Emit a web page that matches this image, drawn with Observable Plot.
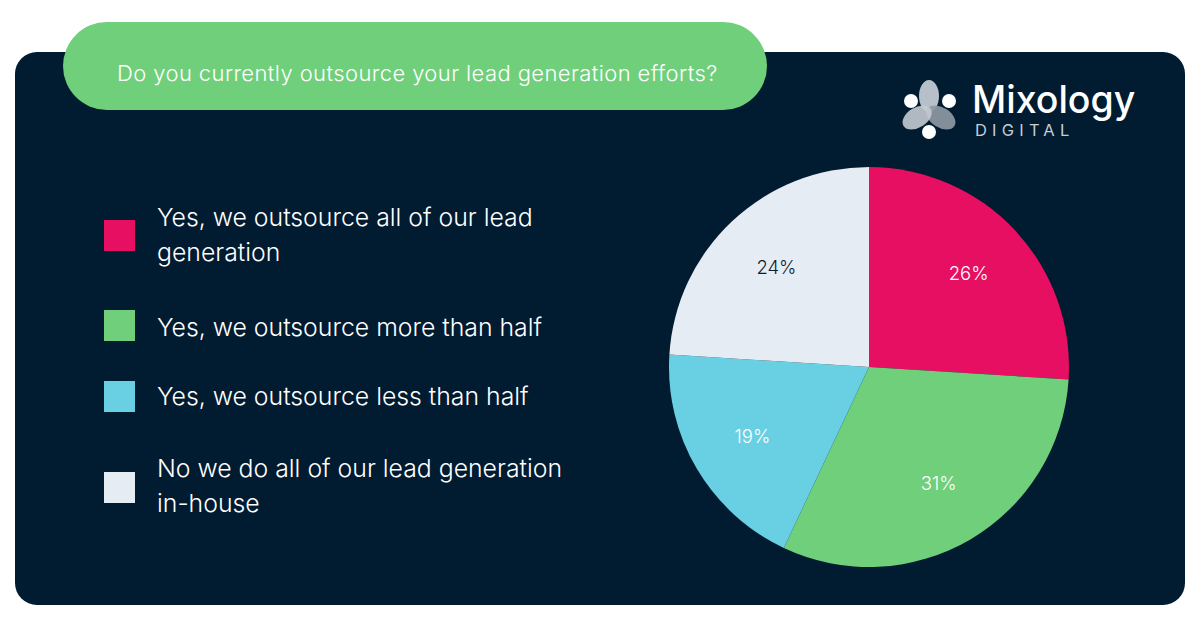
<!DOCTYPE html>
<html>
<head>
<meta charset="utf-8">
<script src="https://cdn.jsdelivr.net/npm/d3@7"></script>
<script src="https://cdn.jsdelivr.net/npm/@observablehq/plot@0.6"></script>
<style>
  html, body { margin: 0; padding: 0; background: #ffffff; }
  #root { position: relative; width: 1200px; height: 630px; overflow: hidden; font-family: Inter, "Noto Sans", sans-serif; }
  #panel { position: absolute; left: 15px; top: 52px; width: 1170px; height: 553px; background: #011B31; border-radius: 22px; }
  #pill { position: absolute; left: 63px; top: 22px; width: 704px; height: 88px; background: #6FCF7A; border-radius: 44px; }
  #title { position: absolute; left: 117px; top: 59px; font-size: 22px; letter-spacing: 0.4px; font-weight: 300; color: #ffffff; white-space: nowrap; line-height: 28px; }
  .leg-sw { position: absolute; left: 104px; width: 31px; height: 31px; }
  .leg-tx { position: absolute; left: 157px; font-size: 24.8px; font-weight: 300; line-height: 35px; color: #ffffff; white-space: nowrap; }
  #chart { position: absolute; left: 668.5px; top: 167px; }
  #logo { position: absolute; left: 895px; top: 75px; }
  #logo-name { position: absolute; left: 972px; top: 81px; font-size: 37.5px; color: #ffffff; line-height: 37.5px; font-weight: 500; }
  #logo-sub { position: absolute; left: 975px; top: 122px; font-size: 16.5px; letter-spacing: 5.2px; color: #C5CCD4; line-height: 16px; }
</style>
</head>
<body>
<div id="root">
  <div id="panel"></div>
  <div id="pill"></div>
  <div id="title"></div>
  <svg id="logo" width="70" height="70" viewBox="0 0 70 70">
    <g transform="translate(34,35)">
      <ellipse cx="0" cy="-14" rx="10" ry="16" fill="#B7C0C9"/>
      <ellipse cx="0" cy="-14" rx="10" ry="16" fill="#8D99A4" opacity="0.92" transform="rotate(122)"/>
      <ellipse cx="0" cy="-14" rx="10" ry="16" fill="#C3CAD2" opacity="0.9" transform="rotate(238)"/>
    </g>
    <circle cx="16" cy="26" r="7" fill="#ffffff"/>
    <circle cx="54" cy="26" r="7" fill="#ffffff"/>
    <circle cx="34" cy="57" r="7" fill="#ffffff"/>
  </svg>
  <div id="logo-name">Mixology</div>
  <div id="logo-sub">DIGITAL</div>
  <div id="legend"></div>
  <div id="chart"></div>
</div>
<script>
const titleText = "Do you currently outsource your lead generation efforts?";
const categories = [
  "Yes, we outsource all of our lead generation",
  "Yes, we outsource more than half",
  "Yes, we outsource less than half",
  "No we do all of our lead generation in-house"
];
const legendLines = [
  ["Yes, we outsource all of our lead", "generation"],
  ["Yes, we outsource more than half"],
  ["Yes, we outsource less than half"],
  ["No we do all of our lead generation", "in-house"]
];
const values = [26, 31, 19, 24];
const valueLabels = ["26%", "31%", "19%", "24%"];
const colors = ["#E60F62", "#6FCF7A", "#69CFE3", "#E6ECF4"];
const labelColors = ["#ffffff", "#ffffff", "#ffffff", "#0B1F33"];

document.getElementById("title").textContent = titleText;

// Legend (HTML)
const swatchTops = [220, 310, 381, 472];
const textTops = [200, 310, 379, 451];
const legend = document.getElementById("legend");
categories.forEach((c, i) => {
  const sw = document.createElement("div");
  sw.className = "leg-sw";
  sw.style.top = swatchTops[i] + "px";
  sw.style.background = colors[i];
  legend.appendChild(sw);
  const tx = document.createElement("div");
  tx.className = "leg-tx";
  tx.style.top = textTops[i] + "px";
  tx.innerHTML = legendLines[i].join("<br>");
  legend.appendChild(tx);
});

// Pie via d3.pie, drawn inside Plot
const data = categories.map((c, i) => ({category: c, value: values[i], label: valueLabels[i], color: colors[i], labelColor: labelColors[i]}));
const arcs = d3.pie().sort(null).value(d => d.value)(data);
const labelR = 0.68;
const labelData = arcs.map(a => {
  const m = (a.startAngle + a.endAngle) / 2;
  return {x: labelR * Math.sin(m), y: labelR * Math.cos(m), label: a.data.label, fill: a.data.labelColor};
});

function pieMark(index, scales, channels, dimensions, context) {
  const cx = scales.x(0), cy = scales.y(0);
  const r = scales.x(1) - scales.x(0);
  const g = d3.create("svg:g").attr("transform", `translate(${cx},${cy})`);
  const arcGen = d3.arc().innerRadius(0).outerRadius(r);
  g.selectAll("path").data(arcs).join("path")
    .attr("d", arcGen)
    .attr("fill", d => d.data.color);
  return g.node();
}

const chart = Plot.plot({
  width: 400,
  height: 400,
  margin: 0,
  x: {domain: [-1, 1], axis: null},
  y: {domain: [-1, 1], axis: null},
  style: {background: "transparent", overflow: "visible", fontFamily: "Inter, 'Noto Sans', sans-serif"},
  marks: [
    pieMark,
    Plot.text(labelData, {x: "x", y: "y", text: "label", fill: "fill", fontSize: 18.5, fontWeight: 300})
  ]
});
document.getElementById("chart").appendChild(chart);
</script>
</body>
</html>
